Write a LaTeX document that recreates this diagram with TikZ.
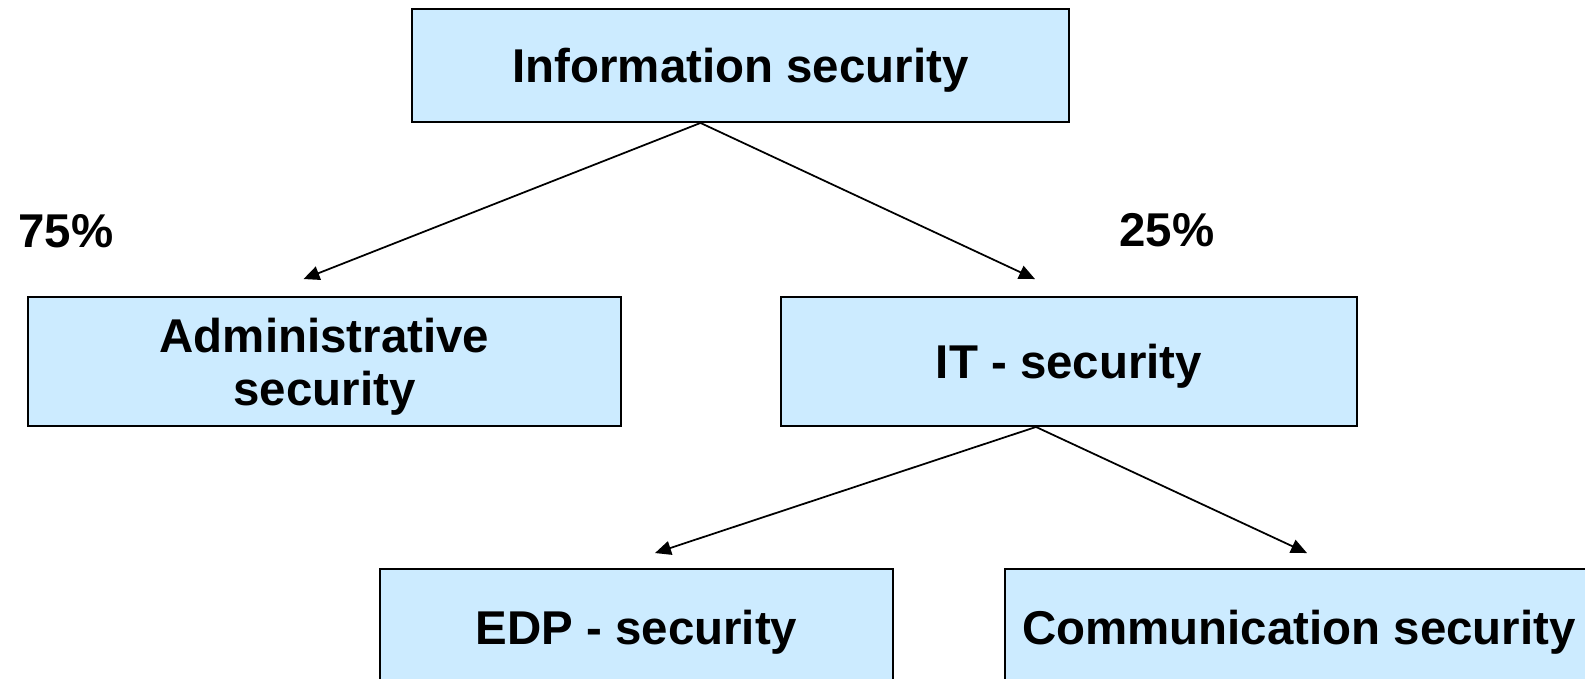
\documentclass[tikz,border=0pt]{standalone}
\usepackage{fontspec}
\setmainfont{Liberation Sans}
\usetikzlibrary{arrows.meta}
\definecolor{boxblue}{HTML}{CCEBFF}

\begin{document}
\begin{tikzpicture}[x=0.02cm, y=-0.02cm,
    secbox/.style={draw, line width=1.1pt, fill=boxblue, align=center, inner sep=0pt,
      text depth=0pt, font=\fontsize{27}{30}\selectfont\bfseries},
    link/.style={line width=1pt, -{Triangle[length=0.32cm, width=0.28cm]}},
    share/.style={font=\fontsize{27}{30}\selectfont\bfseries}]
    % Define frame
    \def\picW{1585}
    \def\picH{679}
    \clip (0,0) rectangle (\picW,\picH);

    % Boxes
    \node[secbox, minimum width=13.14cm, minimum height=2.26cm] (info) at (740.5,65.5) {Information security};
    \node[secbox, minimum width=11.86cm, minimum height=2.58cm] (admin) at (324.5,361.5) {Administrative\\security};
    \node[secbox, minimum width=11.52cm, minimum height=2.58cm] (it) at (1069,361.5) {IT - security};
    \node[secbox, minimum width=10.26cm, minimum height=2.32cm] (edp) at (636.5,627) {EDP - security};
    \node[secbox, minimum width=11.76cm, minimum height=2.32cm] (comm) at (1299,627) {Communication security};

    % Arrow ends
    \coordinate (infofoot) at ([xshift=-0.8cm]info.south);
    \coordinate (itfoot) at ([xshift=-0.66cm]it.south);
    \coordinate (admintip) at ([xshift=-0.42cm, yshift=0.34cm]admin.north);
    \coordinate (ittip) at ([xshift=-0.68cm, yshift=0.34cm]it.north);
    \coordinate (edptip) at ([xshift=0.37cm, yshift=0.3cm]edp.north);
    \coordinate (commtip) at ([xshift=0.16cm, yshift=0.3cm]comm.north);

    % Arrows
    \draw[link] (infofoot) -- (admintip);
    \draw[link] (infofoot) -- (ittip);
    \draw[link] (itfoot) -- (edptip);
    \draw[link] (itfoot) -- (commtip);

    % Shares
    \node[share] (adminshare) at (66,231) {75\%};
    \node[share] (itshare) at (1167,230) {25\%};
  \end{tikzpicture}
\end{document}
